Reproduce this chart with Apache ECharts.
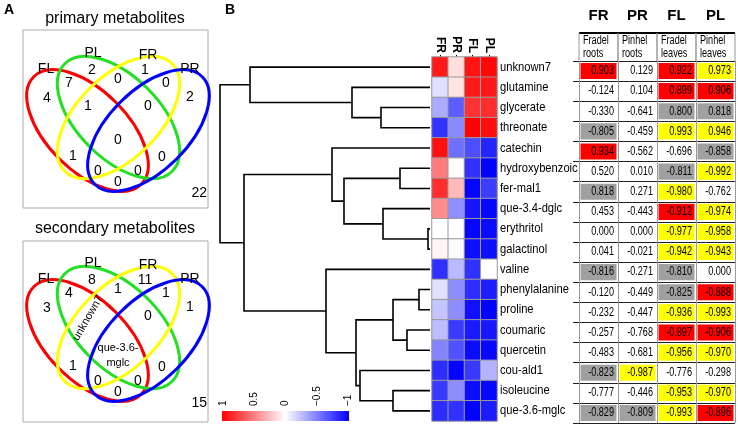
<!DOCTYPE html>
<html><head><meta charset="utf-8">
<script src="https://cdn.jsdelivr.net/npm/echarts@6/dist/echarts.min.js"></script>
<style>html,body{margin:0;padding:0;background:#fff}#c{width:738px;height:426px}</style>
</head><body><div id="c"></div><script>
// ---------- DATA ----------
const samples = ['FR', 'PR', 'FL', 'PL'];
const sampleNames = ['Fradel\nroots', 'Pinhel\nroots', 'Fradel\nleaves', 'Pinhel\nleaves'];
const metabolites = ['unknown7', 'glutamine', 'glycerate', 'threonate', 'catechin', 'hydroxybenzoic', 'fer-mal1', 'que-3.4-dglc', 'erythritol', 'galactinol', 'valine', 'phenylalanine', 'proline', 'coumaric', 'quercetin', 'cou-ald1', 'isoleucine', 'que-3.6-mglc'];
const corrFR = [0.903, -0.124, -0.330, -0.805, 0.934, 0.520, 0.818, 0.453, 0.000, 0.041, -0.816, -0.120, -0.232, -0.257, -0.483, -0.823, -0.777, -0.829];
const corrPR = [0.129, 0.104, -0.641, -0.459, -0.562, 0.010, 0.271, -0.443, 0.000, -0.021, -0.271, -0.449, -0.447, -0.768, -0.681, -0.987, -0.446, -0.809];
const corrFL = [0.922, 0.899, 0.800, 0.993, -0.696, -0.811, -0.980, -0.912, -0.977, -0.942, -0.810, -0.825, -0.936, -0.897, -0.956, -0.776, -0.953, -0.993];
const corrPL = [0.973, 0.906, 0.818, 0.946, -0.858, -0.992, -0.762, -0.974, -0.958, -0.943, 0.000, -0.888, -0.993, -0.906, -0.970, -0.298, -0.970, -0.896];
// cell highlight class: r = red, y = yellow, g = grey, w = none
const markFR = ['r','w','w','g','r','w','g','w','w','w','g','w','w','w','w','g','w','g'];
const markPR = ['w','w','w','w','w','w','w','w','w','w','w','w','w','w','w','y','w','g'];
const markFL = ['r','r','g','y','w','g','y','r','y','y','g','g','y','r','y','w','y','y'];
const markPL = ['y','r','g','y','g','y','w','y','y','y','w','r','y','r','y','w','y','r'];
// hierarchical clustering merges (leaf names or "m<k>" = k-th merge)
const mergeA = ['erythritol','phenylalanine','coumaric','hydroxybenzoic','isoleucine','m1','que-3.4-dglc','glycerate','cou-ald1','m5','glutamine','m3','catechin','valine','unknown7','m12','m14'];
const mergeB = ['galactinol','proline','quercetin','fer-mal1','que-3.6-mglc','m2','m0','threonate','m4','m8','m7','m6','m11','m9','m10','m13','m15'];
const mergeHeight = [2, 11, 23, 30, 37, 37, 47, 49, 70, 74, 78, 86, 98, 104, 180, 186, 210];
const colorbarTicks = [1, 0.5, 0, -0.5, -1];
// Venn diagrams
const vennSets = ['FL', 'PL', 'FR', 'PR'];
const vennRegions = ['FL','PL','FR','PR','FL&PL','PL&FR','FR&PR','FL&PL&FR','PL&FR&PR','FL&PL&FR&PR','FL&FR','PL&PR','FL&FR&PR','FL&PL&PR','FL&PR','none'];
const primaryCounts = ['4','2','1','2','7','0','0','1','0','0','1','0','0','0','0','22'];
const secondaryCounts = ['3','8','11','1','4','1','1','unknown7','0','que-3.6-\nmglc','1','0','0','0','0','15'];

// ---------- LAYOUT / STYLE ----------
const FONT = '"Liberation Sans", Arial, sans-serif';
const markColor = { r: '#ff0000', y: '#ffff00', g: '#a0a0a0', w: '#ffffff' };
const vennSetLabelPos = [[46, 69], [93, 53], [148, 55], [190, 69]];
const vennRegionPos = [[47,98],[92,70],[145,70],[190,97],[69,83],[118,79],[166,83],[88,106],[148,106],[118,140],[73,156],[162,157],[98,171],[138,171],[118,182],[207,193]];
const ellipses = [ // cx, cy, rx, ry, rotation, colour
  [87.5, 130.5, 76, 40, -Math.PI/4, '#ff0000'],
  [118.5, 117.5, 76, 41, -Math.PI/4, '#22e022'],
  [118.5, 117.5, 76, 41, Math.PI/4, '#ffff00'],
  [148.5, 130.5, 76, 40, Math.PI/4, '#0000ff']
];

const graphics = [];
function addVenn(oy, title, counts, special) {
  graphics.push({ type: 'rect', shape: { x: 23, y: 30 + oy + (oy ? 1 : 0), width: 185, height: oy ? 181 : 178 }, style: { fill: 'none', stroke: '#aaaaaa', lineWidth: 1 } });
  graphics.push({ type: 'text', style: { text: title, x: 115, y: 19 + oy, align: 'center', verticalAlign: 'middle', font: '16px ' + FONT, fill: '#000' } });
  ellipses.forEach(e => graphics.push({ type: 'ellipse', x: e[0], y: e[1] + oy, rotation: e[4], shape: { cx: 0, cy: 0, rx: e[2], ry: e[3] }, style: { fill: 'none', stroke: e[5], lineWidth: 3 } }));
  vennSets.forEach((s, i) => graphics.push({ type: 'text', style: { text: s, x: vennSetLabelPos[i][0], y: vennSetLabelPos[i][1] + oy, align: 'center', verticalAlign: 'middle', font: '14px ' + FONT, fill: '#000' } }));
  counts.forEach((c, i) => {
    const p = vennRegionPos[i];
    if (special && c === 'unknown7') {
      graphics.push({ type: 'text', x: 88, y: 108 + oy, rotation: 60 * Math.PI / 180, style: { text: c, x: 0, y: 0, align: 'center', verticalAlign: 'middle', font: '11px ' + FONT, fill: '#000' } });
    } else if (special && c.indexOf('\n') >= 0) {
      graphics.push({ type: 'text', style: { text: c, x: 118, y: 145 + oy, align: 'center', verticalAlign: 'middle', font: '11px ' + FONT, lineHeight: 15, fill: '#000' } });
    } else {
      graphics.push({ type: 'text', style: { text: c, x: p[0], y: p[1] + oy, align: i === 15 ? 'right' : 'center', verticalAlign: 'middle', font: '14px ' + FONT, fill: '#000' } });
    }
  });
}
addVenn(0, 'primary metabolites', primaryCounts, false);
addVenn(210, 'secondary metabolites', secondaryCounts, true);
graphics.push({ type: 'text', style: { text: 'A', x: 4, y: 10, verticalAlign: 'middle', font: 'bold 14px ' + FONT, fill: '#000' } });
graphics.push({ type: 'text', style: { text: 'B', x: 225, y: 10, verticalAlign: 'middle', font: 'bold 14px ' + FONT, fill: '#000' } });
graphics.push({ type: 'rect', shape: { x: 222, y: 411, width: 127, height: 10 }, style: { fill: new echarts.graphic.LinearGradient(0, 0, 1, 0, [{ offset: 0, color: '#ff0000' }, { offset: 0.5, color: '#ffffff' }, { offset: 1, color: '#0000ff' }]) } });

// ---------- DERIVED ----------
const corr = [corrFR, corrPR, corrFL, corrPL];
const marks = [markFR, markPR, markFL, markPL];
const heatData = [], tableData = [];
for (let c = 0; c < 4; c++) for (let r = 0; r < metabolites.length; r++) {
  heatData.push([c, r, corr[c][r]]);
  tableData.push([c, r, corr[c][r], marks[c][r]]);
}
const pos = {};
metabolites.forEach((m, i) => pos[m] = { y: i, h: 0 });
mergeHeight.forEach((h, i) => { const a = pos[mergeA[i]], b = pos[mergeB[i]]; pos['m' + i] = { y: (a.y + b.y) / 2, h: h }; });
const dendroData = mergeHeight.map((h, i) => [h, pos['m' + i].y, i]);

const chart = echarts.init(document.getElementById('c'), null, { renderer: 'canvas', width: 738, height: 426 });
chart.setOption({
  animation: false,
  backgroundColor: '#fff',
  textStyle: { fontFamily: FONT },
  grid: [
    { left: 220, top: 57, width: 210, height: 364 },  // dendrogram
    { left: 432, top: 57, width: 65, height: 364 },   // heatmap
    { left: 579, top: 61, width: 156, height: 362, show: false }, // table
    { left: 223, top: 411, width: 125, height: 10 }   // colour bar axis
  ],
  xAxis: [
    { gridIndex: 0, type: 'value', min: 0, max: 210, inverse: true, show: false },
    { gridIndex: 1, type: 'category', data: samples, position: 'top', axisLine: { show: false }, axisTick: { show: true, alignWithLabel: true, length: 2, lineStyle: { color: '#000' } }, axisLabel: { interval: 0, rotate: 90, fontSize: 12, fontWeight: 'bold', color: '#000', margin: 4 }, splitLine: { show: false } },
    { gridIndex: 2, type: 'category', data: samples, position: 'top', axisLine: { show: false }, axisTick: { show: false }, axisLabel: { interval: 0, fontSize: 15, fontWeight: 'bold', color: '#000', margin: 38 }, splitLine: { show: true, lineStyle: { color: '#999', width: 1 } } },
    { gridIndex: 3, type: 'value', min: -1, max: 1, interval: 0.5, inverse: true, position: 'top', axisLine: { show: false }, axisTick: { show: false }, splitLine: { show: false }, axisLabel: { rotate: 90, fontSize: 10, color: '#000', margin: 5, formatter: v => (v < 0 ? '\u2212' + Math.abs(v) : String(v)) } }
  ],
  yAxis: [
    { gridIndex: 0, type: 'value', min: -0.5, max: metabolites.length - 0.5, inverse: true, show: false },
    { gridIndex: 1, type: 'category', data: metabolites, inverse: true, position: 'right', axisLine: { show: false }, axisTick: { show: false }, axisLabel: { show: false } },
    { gridIndex: 2, type: 'category', data: metabolites, inverse: true, axisLine: { show: false }, axisTick: { show: true, length: 6, lineStyle: { color: '#222' } }, axisLabel: { show: false }, splitLine: { show: true, lineStyle: { color: '#222', width: 1 } } },
    { gridIndex: 3, type: 'value', show: false }
  ],
  visualMap: { show: false, seriesIndex: 1, dimension: 2, min: -1, max: 1, inRange: { color: ['#0000ff', '#ffffff', '#ff0000'] } },
  series: [
    { type: 'custom', xAxisIndex: 0, yAxisIndex: 0, data: dendroData, clip: false,
      renderItem: function (params, api) {
        const i = api.value(2);
        const a = pos[mergeA[i]], b = pos[mergeB[i]], h = mergeHeight[i];
        const pts = [api.coord([a.h, a.y]), api.coord([h, a.y]), api.coord([h, b.y]), api.coord([b.h, b.y])];
        return { type: 'polyline', shape: { points: pts }, style: { stroke: '#000', lineWidth: 1.6, fill: null } };
      } },
    { type: 'heatmap', xAxisIndex: 1, yAxisIndex: 1, data: heatData, itemStyle: { borderColor: '#9a9a9a', borderWidth: 1 } },
    { type: 'custom', xAxisIndex: 2, yAxisIndex: 2, data: tableData, clip: false,
      renderItem: function (params, api) {
        const d = tableData[params.dataIndex];
        const p = api.coord([d[0], d[1]]), s = api.size([1, 1]);
        return { type: 'group', children: [
          { type: 'rect', shape: { x: p[0] - s[0] / 2 + 1.5, y: p[1] - s[1] / 2 + 2, width: s[0] - 3, height: s[1] - 4 }, style: { fill: markColor[d[3]] } },
          { type: 'text', x: p[0] + s[0] / 2 - 4, y: p[1], scaleX: 0.76, style: { text: d[2].toFixed(3), x: 0, y: 0, align: 'right', verticalAlign: 'middle', font: '12px ' + FONT, fill: '#000' } }
        ] };
      } },
    { type: 'custom', xAxisIndex: 2, yAxisIndex: 2, data: samples.map((s, i) => [i, 0]), clip: false,
      renderItem: function (params, api) {
        const c = params.dataIndex;
        const p = api.coord([c, 0]), s = api.size([1, 1]);
        const left = p[0] - s[0] / 2, top = p[1] - s[1] / 2 - 28;
        return { type: 'group', children: [
          { type: 'line', shape: { x1: left, y1: top, x2: left + s[0], y2: top }, style: { stroke: '#000', lineWidth: 2 } },
          { type: 'line', shape: { x1: left, y1: top, x2: left, y2: top + 28 }, style: { stroke: '#999', lineWidth: 1 } },
          { type: 'line', shape: { x1: left + s[0], y1: top, x2: left + s[0], y2: top + 28 }, style: { stroke: '#999', lineWidth: 1 } },
          { type: 'text', x: left + 4, y: top + 14, scaleX: 0.76, style: { text: sampleNames[c], x: 0, y: 0, align: 'left', verticalAlign: 'middle', font: '12px ' + FONT, lineHeight: 13, fill: '#000' } }
        ] };
      } },
    { type: 'custom', xAxisIndex: 1, yAxisIndex: 1, data: metabolites.map((m, i) => [3, i]), clip: false,
      renderItem: function (params, api) {
        const i = params.dataIndex;
        const p = api.coord([3, i]), s = api.size([1, 1]);
        return { type: 'text', x: p[0] + s[0] / 2 + 3, y: p[1], scaleX: 0.86, style: { text: metabolites[i], x: 0, y: 0, align: 'left', verticalAlign: 'middle', font: '13px ' + FONT, fill: '#000' } };
      } }
  ],
  graphic: graphics
});
</script></body></html>
